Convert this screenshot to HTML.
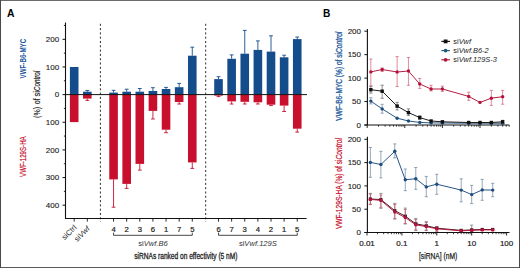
<!DOCTYPE html>
<html><head><meta charset="utf-8"><style>
html,body{margin:0;padding:0;background:#fff;}
svg{display:block;font-family:"Liberation Sans", sans-serif;}
</style></head><body>
<svg width="520" height="268" viewBox="0 0 520 268">
<rect x="0" y="0" width="520" height="268" fill="#fff"/>
<line x1="65.5" y1="22.5" x2="65.5" y2="219" stroke="#111" stroke-width="1.1"/>
<line x1="62.5" y1="39.30" x2="65.5" y2="39.30" stroke="#111" stroke-width="1"/>
<text x="59.2" y="42.10" text-anchor="end" font-size="8" fill="#222" stroke="#222" stroke-width="0.12">200</text>
<line x1="62.5" y1="66.95" x2="65.5" y2="66.95" stroke="#111" stroke-width="1"/>
<text x="59.2" y="69.75" text-anchor="end" font-size="8" fill="#222" stroke="#222" stroke-width="0.12">100</text>
<line x1="62.5" y1="94.60" x2="65.5" y2="94.60" stroke="#111" stroke-width="1"/>
<text x="59.2" y="97.40" text-anchor="end" font-size="8" fill="#222" stroke="#222" stroke-width="0.12">0</text>
<line x1="62.5" y1="122.25" x2="65.5" y2="122.25" stroke="#111" stroke-width="1"/>
<text x="59.2" y="125.05" text-anchor="end" font-size="8" fill="#222" stroke="#222" stroke-width="0.12">100</text>
<line x1="62.5" y1="149.90" x2="65.5" y2="149.90" stroke="#111" stroke-width="1"/>
<text x="59.2" y="152.70" text-anchor="end" font-size="8" fill="#222" stroke="#222" stroke-width="0.12">200</text>
<line x1="62.5" y1="177.55" x2="65.5" y2="177.55" stroke="#111" stroke-width="1"/>
<text x="59.2" y="180.35" text-anchor="end" font-size="8" fill="#222" stroke="#222" stroke-width="0.12">300</text>
<line x1="62.5" y1="205.20" x2="65.5" y2="205.20" stroke="#111" stroke-width="1"/>
<text x="59.2" y="208.00" text-anchor="end" font-size="8" fill="#222" stroke="#222" stroke-width="0.12">400</text>
<line x1="63.9" y1="25.47" x2="65.5" y2="25.47" stroke="#111" stroke-width="0.9"/>
<line x1="63.9" y1="53.12" x2="65.5" y2="53.12" stroke="#111" stroke-width="0.9"/>
<line x1="63.9" y1="80.77" x2="65.5" y2="80.77" stroke="#111" stroke-width="0.9"/>
<line x1="63.9" y1="108.42" x2="65.5" y2="108.42" stroke="#111" stroke-width="0.9"/>
<line x1="63.9" y1="136.07" x2="65.5" y2="136.07" stroke="#111" stroke-width="0.9"/>
<line x1="63.9" y1="163.72" x2="65.5" y2="163.72" stroke="#111" stroke-width="0.9"/>
<line x1="63.9" y1="191.38" x2="65.5" y2="191.38" stroke="#111" stroke-width="0.9"/>
<rect x="69.90" y="67.0" width="8.6" height="27.60" fill="#154c8b"/>
<rect x="69.90" y="94.6" width="8.6" height="27.50" fill="#c8102e"/>
<rect x="83.02" y="91.7" width="8.6" height="2.90" fill="#154c8b"/>
<rect x="83.02" y="94.6" width="8.6" height="4.00" fill="#c8102e"/>
<path d="M87.32 91.7 V90.5 M85.42 90.5 H89.22" stroke="#154c8b" stroke-width="0.9" fill="none"/>
<path d="M87.32 98.6 V100.4 M85.42 100.4 H89.22" stroke="#c8102e" stroke-width="0.9" fill="none"/>
<rect x="109.26" y="92.6" width="8.6" height="2.00" fill="#154c8b"/>
<rect x="109.26" y="94.6" width="8.6" height="84.80" fill="#c8102e"/>
<path d="M113.56 92.6 V90.3 M111.66 90.3 H115.46" stroke="#154c8b" stroke-width="0.9" fill="none"/>
<path d="M113.56 179.4 V207.2 M111.66 207.2 H115.46" stroke="#c8102e" stroke-width="0.9" fill="none"/>
<rect x="122.38" y="91.7" width="8.6" height="2.90" fill="#154c8b"/>
<rect x="122.38" y="94.6" width="8.6" height="89.30" fill="#c8102e"/>
<path d="M126.68 91.7 V89.2 M124.78 89.2 H128.58" stroke="#154c8b" stroke-width="0.9" fill="none"/>
<path d="M126.68 183.9 V188.4 M124.78 188.4 H128.58" stroke="#c8102e" stroke-width="0.9" fill="none"/>
<rect x="135.50" y="91.7" width="8.6" height="2.90" fill="#154c8b"/>
<rect x="135.50" y="94.6" width="8.6" height="69.30" fill="#c8102e"/>
<path d="M139.80 91.7 V88.5 M137.90 88.5 H141.70" stroke="#154c8b" stroke-width="0.9" fill="none"/>
<path d="M139.80 163.9 V170.1 M137.90 170.1 H141.70" stroke="#c8102e" stroke-width="0.9" fill="none"/>
<rect x="148.62" y="91.0" width="8.6" height="3.60" fill="#154c8b"/>
<rect x="148.62" y="94.6" width="8.6" height="16.30" fill="#c8102e"/>
<path d="M152.92 91.0 V87.7 M151.02 87.7 H154.82" stroke="#154c8b" stroke-width="0.9" fill="none"/>
<path d="M152.92 110.9 V119.0 M151.02 119.0 H154.82" stroke="#c8102e" stroke-width="0.9" fill="none"/>
<rect x="161.74" y="89.0" width="8.6" height="5.60" fill="#154c8b"/>
<rect x="161.74" y="94.6" width="8.6" height="35.10" fill="#c8102e"/>
<path d="M166.04 89.0 V87.4 M164.14 87.4 H167.94" stroke="#154c8b" stroke-width="0.9" fill="none"/>
<path d="M166.04 129.7 V132.7 M164.14 132.7 H167.94" stroke="#c8102e" stroke-width="0.9" fill="none"/>
<rect x="174.86" y="87.2" width="8.6" height="7.40" fill="#154c8b"/>
<rect x="174.86" y="94.6" width="8.6" height="7.40" fill="#c8102e"/>
<path d="M179.16 87.2 V83.4 M177.26 83.4 H181.06" stroke="#154c8b" stroke-width="0.9" fill="none"/>
<path d="M179.16 102.0 V104.0 M177.26 104.0 H181.06" stroke="#c8102e" stroke-width="0.9" fill="none"/>
<rect x="187.98" y="55.7" width="8.6" height="38.90" fill="#154c8b"/>
<rect x="187.98" y="94.6" width="8.6" height="67.80" fill="#c8102e"/>
<path d="M192.28 55.7 V47.2 M190.38 47.2 H194.18" stroke="#154c8b" stroke-width="0.9" fill="none"/>
<path d="M192.28 162.4 V168.4 M190.38 168.4 H194.18" stroke="#c8102e" stroke-width="0.9" fill="none"/>
<rect x="214.22" y="79.1" width="8.6" height="15.50" fill="#154c8b"/>
<rect x="214.22" y="94.6" width="8.6" height="1.00" fill="#c8102e"/>
<path d="M218.52 79.1 V76.7 M216.62 76.7 H220.42" stroke="#154c8b" stroke-width="0.9" fill="none"/>
<path d="M218.52 95.6 V96.6 M216.62 96.6 H220.42" stroke="#c8102e" stroke-width="0.9" fill="none"/>
<rect x="227.34" y="58.8" width="8.6" height="35.80" fill="#154c8b"/>
<rect x="227.34" y="94.6" width="8.6" height="6.80" fill="#c8102e"/>
<path d="M231.64 58.8 V54.9 M229.74 54.9 H233.54" stroke="#154c8b" stroke-width="0.9" fill="none"/>
<path d="M231.64 101.4 V104.0 M229.74 104.0 H233.54" stroke="#c8102e" stroke-width="0.9" fill="none"/>
<rect x="240.46" y="53.7" width="8.6" height="40.90" fill="#154c8b"/>
<rect x="240.46" y="94.6" width="8.6" height="7.20" fill="#c8102e"/>
<path d="M244.76 53.7 V30.4 M242.86 30.4 H246.66" stroke="#154c8b" stroke-width="0.9" fill="none"/>
<path d="M244.76 101.8 V104.0 M242.86 104.0 H246.66" stroke="#c8102e" stroke-width="0.9" fill="none"/>
<rect x="253.58" y="49.9" width="8.6" height="44.70" fill="#154c8b"/>
<rect x="253.58" y="94.6" width="8.6" height="7.70" fill="#c8102e"/>
<path d="M257.88 49.9 V40.9 M255.98 40.9 H259.78" stroke="#154c8b" stroke-width="0.9" fill="none"/>
<path d="M257.88 102.3 V104.0 M255.98 104.0 H259.78" stroke="#c8102e" stroke-width="0.9" fill="none"/>
<rect x="266.70" y="51.6" width="8.6" height="43.00" fill="#154c8b"/>
<rect x="266.70" y="94.6" width="8.6" height="10.10" fill="#c8102e"/>
<path d="M271.00 51.6 V35.8 M269.10 35.8 H272.90" stroke="#154c8b" stroke-width="0.9" fill="none"/>
<path d="M271.00 104.7 V105.6 M269.10 105.6 H272.90" stroke="#c8102e" stroke-width="0.9" fill="none"/>
<rect x="279.82" y="57.3" width="8.6" height="37.30" fill="#154c8b"/>
<rect x="279.82" y="94.6" width="8.6" height="11.00" fill="#c8102e"/>
<path d="M284.12 57.3 V55.2 M282.22 55.2 H286.02" stroke="#154c8b" stroke-width="0.9" fill="none"/>
<path d="M284.12 105.6 V111.5 M282.22 111.5 H286.02" stroke="#c8102e" stroke-width="0.9" fill="none"/>
<rect x="292.94" y="39.1" width="8.6" height="55.50" fill="#154c8b"/>
<rect x="292.94" y="94.6" width="8.6" height="34.10" fill="#c8102e"/>
<path d="M297.24 39.1 V37.0 M295.34 37.0 H299.14" stroke="#154c8b" stroke-width="0.9" fill="none"/>
<path d="M297.24 128.7 V132.1 M295.34 132.1 H299.14" stroke="#c8102e" stroke-width="0.9" fill="none"/>
<line x1="65.5" y1="94.6" x2="307" y2="94.6" stroke="#111" stroke-width="1"/>
<line x1="65.0" y1="218.5" x2="306.6" y2="218.5" stroke="#111" stroke-width="1.1"/>
<line x1="74.20" y1="218.5" x2="74.20" y2="221.6" stroke="#111" stroke-width="0.9"/>
<line x1="87.32" y1="218.5" x2="87.32" y2="221.6" stroke="#111" stroke-width="0.9"/>
<line x1="113.56" y1="218.5" x2="113.56" y2="221.6" stroke="#111" stroke-width="0.9"/>
<line x1="126.68" y1="218.5" x2="126.68" y2="221.6" stroke="#111" stroke-width="0.9"/>
<line x1="139.80" y1="218.5" x2="139.80" y2="221.6" stroke="#111" stroke-width="0.9"/>
<line x1="152.92" y1="218.5" x2="152.92" y2="221.6" stroke="#111" stroke-width="0.9"/>
<line x1="166.04" y1="218.5" x2="166.04" y2="221.6" stroke="#111" stroke-width="0.9"/>
<line x1="179.16" y1="218.5" x2="179.16" y2="221.6" stroke="#111" stroke-width="0.9"/>
<line x1="192.28" y1="218.5" x2="192.28" y2="221.6" stroke="#111" stroke-width="0.9"/>
<line x1="218.52" y1="218.5" x2="218.52" y2="221.6" stroke="#111" stroke-width="0.9"/>
<line x1="231.64" y1="218.5" x2="231.64" y2="221.6" stroke="#111" stroke-width="0.9"/>
<line x1="244.76" y1="218.5" x2="244.76" y2="221.6" stroke="#111" stroke-width="0.9"/>
<line x1="257.88" y1="218.5" x2="257.88" y2="221.6" stroke="#111" stroke-width="0.9"/>
<line x1="271.00" y1="218.5" x2="271.00" y2="221.6" stroke="#111" stroke-width="0.9"/>
<line x1="284.12" y1="218.5" x2="284.12" y2="221.6" stroke="#111" stroke-width="0.9"/>
<line x1="297.24" y1="218.5" x2="297.24" y2="221.6" stroke="#111" stroke-width="0.9"/>
<line x1="100.4" y1="23.8" x2="100.4" y2="222" stroke="#111" stroke-width="0.9" stroke-dasharray="2 2.3"/>
<line x1="205.7" y1="23.8" x2="205.7" y2="222" stroke="#111" stroke-width="0.9" stroke-dasharray="2 2.3"/>
<text x="113.56" y="231.8" text-anchor="middle" font-size="7.7" fill="#222" stroke="#222" stroke-width="0.2">4</text>
<text x="126.68" y="231.8" text-anchor="middle" font-size="7.7" fill="#222" stroke="#222" stroke-width="0.2">2</text>
<text x="139.80" y="231.8" text-anchor="middle" font-size="7.7" fill="#222" stroke="#222" stroke-width="0.2">3</text>
<text x="152.92" y="231.8" text-anchor="middle" font-size="7.7" fill="#222" stroke="#222" stroke-width="0.2">6</text>
<text x="166.04" y="231.8" text-anchor="middle" font-size="7.7" fill="#222" stroke="#222" stroke-width="0.2">1</text>
<text x="179.16" y="231.8" text-anchor="middle" font-size="7.7" fill="#222" stroke="#222" stroke-width="0.2">7</text>
<text x="192.28" y="231.8" text-anchor="middle" font-size="7.7" fill="#222" stroke="#222" stroke-width="0.2">5</text>
<text x="218.52" y="231.8" text-anchor="middle" font-size="7.7" fill="#222" stroke="#222" stroke-width="0.2">6</text>
<text x="231.64" y="231.8" text-anchor="middle" font-size="7.7" fill="#222" stroke="#222" stroke-width="0.2">7</text>
<text x="244.76" y="231.8" text-anchor="middle" font-size="7.7" fill="#222" stroke="#222" stroke-width="0.2">3</text>
<text x="257.88" y="231.8" text-anchor="middle" font-size="7.7" fill="#222" stroke="#222" stroke-width="0.2">4</text>
<text x="271.00" y="231.8" text-anchor="middle" font-size="7.7" fill="#222" stroke="#222" stroke-width="0.2">2</text>
<text x="284.12" y="231.8" text-anchor="middle" font-size="7.7" fill="#222" stroke="#222" stroke-width="0.2">1</text>
<text x="297.24" y="231.8" text-anchor="middle" font-size="7.7" fill="#222" stroke="#222" stroke-width="0.2">5</text>
<text transform="translate(77.1,228.1) rotate(-45)" text-anchor="end" font-size="7.6" fill="#222">siCtrl</text>
<text transform="translate(90.2,229.2) rotate(-45)" text-anchor="end" font-size="7.6" fill="#222">si<tspan font-style="italic">Vwf</tspan></text>
<path d="M113.56 232.6 V235.3 H192.28 V232.6" stroke="#333" stroke-width="0.9" fill="none"/>
<path d="M218.52 232.6 V235.3 H297.24 V232.6" stroke="#333" stroke-width="0.9" fill="none"/>
<text x="152.92" y="245.9" text-anchor="middle" font-size="7.6" fill="#333">si<tspan font-style="italic">Vwf.B6</tspan></text>
<text x="257.88" y="245.9" text-anchor="middle" font-size="7.6" fill="#333">si<tspan font-style="italic">Vwf.129S</tspan></text>
<text x="134.2" y="258.7" font-size="8.5" fill="#222" stroke="#222" stroke-width="0.3" textLength="103.3" lengthAdjust="spacingAndGlyphs">siRNAs ranked on effectivity (5 nM)</text>
<text transform="translate(25.6,58.6) rotate(-90)" text-anchor="middle" font-size="8.3" font-weight="bold" fill="#245a9c" textLength="39.7" lengthAdjust="spacingAndGlyphs">VWF-B6-MYC</text>
<text transform="translate(39.7,80.9) rotate(-90)" text-anchor="middle" font-size="8.3" font-style="italic" fill="#222" stroke="#222" stroke-width="0.15" textLength="20.0" lengthAdjust="spacingAndGlyphs">Control</text>
<text transform="translate(39.7,93.9) rotate(-90)" text-anchor="middle" font-size="8.3" fill="#222" stroke="#222" stroke-width="0.15" textLength="5.4" lengthAdjust="spacingAndGlyphs">si</text>
<text transform="translate(39.7,101.3) rotate(-90)" text-anchor="middle" font-size="8.3" fill="#222" stroke="#222" stroke-width="0.15" textLength="5.6" lengthAdjust="spacingAndGlyphs">of</text>
<text transform="translate(39.7,112.4) rotate(-90)" text-anchor="middle" font-size="8.3" fill="#222" stroke="#222" stroke-width="0.15" textLength="11.0" lengthAdjust="spacingAndGlyphs">(%)</text>
<text transform="translate(25.6,156.6) rotate(-90)" text-anchor="middle" font-size="8.3" fill="#c8102e" stroke="#c8102e" stroke-width="0.2" textLength="40.6" lengthAdjust="spacingAndGlyphs">VWF-129S-HA</text>
<text x="7.0" y="16.5" font-size="10.4" font-weight="bold" fill="#000">A</text>
<text x="322.9" y="16.5" font-size="10.2" font-weight="bold" fill="#000">B</text>
<line x1="367.4" y1="29.0" x2="367.4" y2="125.0" stroke="#111" stroke-width="1.1"/>
<line x1="364.4" y1="125.00" x2="367.4" y2="125.00" stroke="#111" stroke-width="1"/>
<text x="361.0" y="127.80" text-anchor="end" font-size="8" fill="#222" stroke="#222" stroke-width="0.12">0</text>
<line x1="364.4" y1="101.55" x2="367.4" y2="101.55" stroke="#111" stroke-width="1"/>
<text x="361.0" y="104.35" text-anchor="end" font-size="8" fill="#222" stroke="#222" stroke-width="0.12">50</text>
<line x1="364.4" y1="78.10" x2="367.4" y2="78.10" stroke="#111" stroke-width="1"/>
<text x="361.0" y="80.90" text-anchor="end" font-size="8" fill="#222" stroke="#222" stroke-width="0.12">100</text>
<line x1="364.4" y1="54.65" x2="367.4" y2="54.65" stroke="#111" stroke-width="1"/>
<text x="361.0" y="57.45" text-anchor="end" font-size="8" fill="#222" stroke="#222" stroke-width="0.12">150</text>
<line x1="364.4" y1="31.20" x2="367.4" y2="31.20" stroke="#111" stroke-width="1"/>
<text x="361.0" y="34.00" text-anchor="end" font-size="8" fill="#222" stroke="#222" stroke-width="0.12">200</text>
<line x1="364.4" y1="125.0" x2="509.3" y2="125.0" stroke="#111" stroke-width="1.1"/>
<line x1="367.20" y1="125.0" x2="367.20" y2="128.0" stroke="#111" stroke-width="0.9"/>
<line x1="378.52" y1="125.0" x2="378.52" y2="126.7" stroke="#111" stroke-width="0.8"/>
<line x1="385.14" y1="125.0" x2="385.14" y2="126.7" stroke="#111" stroke-width="0.8"/>
<line x1="389.84" y1="125.0" x2="389.84" y2="126.7" stroke="#111" stroke-width="0.8"/>
<line x1="393.48" y1="125.0" x2="393.48" y2="126.7" stroke="#111" stroke-width="0.8"/>
<line x1="396.46" y1="125.0" x2="396.46" y2="126.7" stroke="#111" stroke-width="0.8"/>
<line x1="398.98" y1="125.0" x2="398.98" y2="126.7" stroke="#111" stroke-width="0.8"/>
<line x1="401.16" y1="125.0" x2="401.16" y2="126.7" stroke="#111" stroke-width="0.8"/>
<line x1="403.08" y1="125.0" x2="403.08" y2="126.7" stroke="#111" stroke-width="0.8"/>
<line x1="404.80" y1="125.0" x2="404.80" y2="128.0" stroke="#111" stroke-width="0.9"/>
<line x1="416.12" y1="125.0" x2="416.12" y2="126.7" stroke="#111" stroke-width="0.8"/>
<line x1="422.74" y1="125.0" x2="422.74" y2="126.7" stroke="#111" stroke-width="0.8"/>
<line x1="427.44" y1="125.0" x2="427.44" y2="126.7" stroke="#111" stroke-width="0.8"/>
<line x1="431.08" y1="125.0" x2="431.08" y2="126.7" stroke="#111" stroke-width="0.8"/>
<line x1="434.06" y1="125.0" x2="434.06" y2="126.7" stroke="#111" stroke-width="0.8"/>
<line x1="436.58" y1="125.0" x2="436.58" y2="126.7" stroke="#111" stroke-width="0.8"/>
<line x1="438.76" y1="125.0" x2="438.76" y2="126.7" stroke="#111" stroke-width="0.8"/>
<line x1="440.68" y1="125.0" x2="440.68" y2="126.7" stroke="#111" stroke-width="0.8"/>
<line x1="442.40" y1="125.0" x2="442.40" y2="128.0" stroke="#111" stroke-width="0.9"/>
<line x1="453.72" y1="125.0" x2="453.72" y2="126.7" stroke="#111" stroke-width="0.8"/>
<line x1="460.34" y1="125.0" x2="460.34" y2="126.7" stroke="#111" stroke-width="0.8"/>
<line x1="465.04" y1="125.0" x2="465.04" y2="126.7" stroke="#111" stroke-width="0.8"/>
<line x1="468.68" y1="125.0" x2="468.68" y2="126.7" stroke="#111" stroke-width="0.8"/>
<line x1="471.66" y1="125.0" x2="471.66" y2="126.7" stroke="#111" stroke-width="0.8"/>
<line x1="474.18" y1="125.0" x2="474.18" y2="126.7" stroke="#111" stroke-width="0.8"/>
<line x1="476.36" y1="125.0" x2="476.36" y2="126.7" stroke="#111" stroke-width="0.8"/>
<line x1="478.28" y1="125.0" x2="478.28" y2="126.7" stroke="#111" stroke-width="0.8"/>
<line x1="480.00" y1="125.0" x2="480.00" y2="128.0" stroke="#111" stroke-width="0.9"/>
<line x1="491.32" y1="125.0" x2="491.32" y2="126.7" stroke="#111" stroke-width="0.8"/>
<line x1="497.94" y1="125.0" x2="497.94" y2="126.7" stroke="#111" stroke-width="0.8"/>
<line x1="502.64" y1="125.0" x2="502.64" y2="126.7" stroke="#111" stroke-width="0.8"/>
<line x1="506.28" y1="125.0" x2="506.28" y2="126.7" stroke="#111" stroke-width="0.8"/>
<line x1="509.26" y1="125.0" x2="509.26" y2="126.7" stroke="#111" stroke-width="0.8"/>
<line x1="367.4" y1="136.7" x2="367.4" y2="232.5" stroke="#111" stroke-width="1.1"/>
<line x1="364.4" y1="232.50" x2="367.4" y2="232.50" stroke="#111" stroke-width="1"/>
<text x="361.0" y="235.30" text-anchor="end" font-size="8" fill="#222" stroke="#222" stroke-width="0.12">0</text>
<line x1="364.4" y1="209.20" x2="367.4" y2="209.20" stroke="#111" stroke-width="1"/>
<text x="361.0" y="212.00" text-anchor="end" font-size="8" fill="#222" stroke="#222" stroke-width="0.12">50</text>
<line x1="364.4" y1="185.90" x2="367.4" y2="185.90" stroke="#111" stroke-width="1"/>
<text x="361.0" y="188.70" text-anchor="end" font-size="8" fill="#222" stroke="#222" stroke-width="0.12">100</text>
<line x1="364.4" y1="162.60" x2="367.4" y2="162.60" stroke="#111" stroke-width="1"/>
<text x="361.0" y="165.40" text-anchor="end" font-size="8" fill="#222" stroke="#222" stroke-width="0.12">150</text>
<line x1="364.4" y1="139.30" x2="367.4" y2="139.30" stroke="#111" stroke-width="1"/>
<text x="361.0" y="142.10" text-anchor="end" font-size="8" fill="#222" stroke="#222" stroke-width="0.12">200</text>
<line x1="364.4" y1="232.5" x2="509.5" y2="232.5" stroke="#111" stroke-width="1.1"/>
<line x1="367.00" y1="232.5" x2="367.00" y2="235.5" stroke="#111" stroke-width="0.9"/>
<line x1="377.51" y1="232.5" x2="377.51" y2="234.2" stroke="#111" stroke-width="0.8"/>
<line x1="383.65" y1="232.5" x2="383.65" y2="234.2" stroke="#111" stroke-width="0.8"/>
<line x1="388.01" y1="232.5" x2="388.01" y2="234.2" stroke="#111" stroke-width="0.8"/>
<line x1="391.39" y1="232.5" x2="391.39" y2="234.2" stroke="#111" stroke-width="0.8"/>
<line x1="394.16" y1="232.5" x2="394.16" y2="234.2" stroke="#111" stroke-width="0.8"/>
<line x1="396.49" y1="232.5" x2="396.49" y2="234.2" stroke="#111" stroke-width="0.8"/>
<line x1="398.52" y1="232.5" x2="398.52" y2="234.2" stroke="#111" stroke-width="0.8"/>
<line x1="400.30" y1="232.5" x2="400.30" y2="234.2" stroke="#111" stroke-width="0.8"/>
<line x1="401.90" y1="232.5" x2="401.90" y2="235.5" stroke="#111" stroke-width="0.9"/>
<line x1="412.41" y1="232.5" x2="412.41" y2="234.2" stroke="#111" stroke-width="0.8"/>
<line x1="418.55" y1="232.5" x2="418.55" y2="234.2" stroke="#111" stroke-width="0.8"/>
<line x1="422.91" y1="232.5" x2="422.91" y2="234.2" stroke="#111" stroke-width="0.8"/>
<line x1="426.29" y1="232.5" x2="426.29" y2="234.2" stroke="#111" stroke-width="0.8"/>
<line x1="429.06" y1="232.5" x2="429.06" y2="234.2" stroke="#111" stroke-width="0.8"/>
<line x1="431.39" y1="232.5" x2="431.39" y2="234.2" stroke="#111" stroke-width="0.8"/>
<line x1="433.42" y1="232.5" x2="433.42" y2="234.2" stroke="#111" stroke-width="0.8"/>
<line x1="435.20" y1="232.5" x2="435.20" y2="234.2" stroke="#111" stroke-width="0.8"/>
<line x1="436.80" y1="232.5" x2="436.80" y2="235.5" stroke="#111" stroke-width="0.9"/>
<line x1="447.31" y1="232.5" x2="447.31" y2="234.2" stroke="#111" stroke-width="0.8"/>
<line x1="453.45" y1="232.5" x2="453.45" y2="234.2" stroke="#111" stroke-width="0.8"/>
<line x1="457.81" y1="232.5" x2="457.81" y2="234.2" stroke="#111" stroke-width="0.8"/>
<line x1="461.19" y1="232.5" x2="461.19" y2="234.2" stroke="#111" stroke-width="0.8"/>
<line x1="463.96" y1="232.5" x2="463.96" y2="234.2" stroke="#111" stroke-width="0.8"/>
<line x1="466.29" y1="232.5" x2="466.29" y2="234.2" stroke="#111" stroke-width="0.8"/>
<line x1="468.32" y1="232.5" x2="468.32" y2="234.2" stroke="#111" stroke-width="0.8"/>
<line x1="470.10" y1="232.5" x2="470.10" y2="234.2" stroke="#111" stroke-width="0.8"/>
<line x1="471.70" y1="232.5" x2="471.70" y2="235.5" stroke="#111" stroke-width="0.9"/>
<line x1="482.21" y1="232.5" x2="482.21" y2="234.2" stroke="#111" stroke-width="0.8"/>
<line x1="488.35" y1="232.5" x2="488.35" y2="234.2" stroke="#111" stroke-width="0.8"/>
<line x1="492.71" y1="232.5" x2="492.71" y2="234.2" stroke="#111" stroke-width="0.8"/>
<line x1="496.09" y1="232.5" x2="496.09" y2="234.2" stroke="#111" stroke-width="0.8"/>
<line x1="498.86" y1="232.5" x2="498.86" y2="234.2" stroke="#111" stroke-width="0.8"/>
<line x1="501.19" y1="232.5" x2="501.19" y2="234.2" stroke="#111" stroke-width="0.8"/>
<line x1="503.22" y1="232.5" x2="503.22" y2="234.2" stroke="#111" stroke-width="0.8"/>
<line x1="505.00" y1="232.5" x2="505.00" y2="234.2" stroke="#111" stroke-width="0.8"/>
<line x1="506.60" y1="232.5" x2="506.60" y2="235.5" stroke="#111" stroke-width="0.9"/>
<text x="367.00" y="245.90" text-anchor="middle" font-size="8" fill="#222" stroke="#222" stroke-width="0.2">0.01</text>
<text x="401.90" y="245.90" text-anchor="middle" font-size="8" fill="#222" stroke="#222" stroke-width="0.2">0.1</text>
<text x="436.80" y="245.90" text-anchor="middle" font-size="8" fill="#222" stroke="#222" stroke-width="0.2">1</text>
<text x="471.70" y="245.90" text-anchor="middle" font-size="8" fill="#222" stroke="#222" stroke-width="0.2">10</text>
<text x="506.60" y="245.90" text-anchor="middle" font-size="8" fill="#222" stroke="#222" stroke-width="0.2">100</text>
<path d="M370.84 97.7 V103.9 M369.24 97.7 H372.44 M369.24 103.9 H372.44" stroke="#5f7a95" stroke-width="0.65" fill="none"/>
<path d="M382.16 104.3 V113.2 M380.56 104.3 H383.76 M380.56 113.2 H383.76" stroke="#5f7a95" stroke-width="0.65" fill="none"/>
<polyline points="370.84,101.10 382.16,108.90 397.13,118.20 408.44,121.00 419.76,122.40 431.08,122.90 442.40,123.00 468.68,123.20 480.00,123.20 491.32,123.20 502.64,123.20" stroke="#1d4d7e" stroke-width="0.95" fill="none"/>
<circle cx="370.84" cy="101.10" r="1.7" fill="#1d4d7e"/>
<circle cx="382.16" cy="108.90" r="1.7" fill="#1d4d7e"/>
<circle cx="397.13" cy="118.20" r="1.7" fill="#1d4d7e"/>
<circle cx="408.44" cy="121.00" r="1.7" fill="#1d4d7e"/>
<circle cx="419.76" cy="122.40" r="1.7" fill="#1d4d7e"/>
<circle cx="431.08" cy="122.90" r="1.7" fill="#1d4d7e"/>
<circle cx="442.40" cy="123.00" r="1.7" fill="#1d4d7e"/>
<circle cx="468.68" cy="123.20" r="1.7" fill="#1d4d7e"/>
<circle cx="480.00" cy="123.20" r="1.7" fill="#1d4d7e"/>
<circle cx="491.32" cy="123.20" r="1.7" fill="#1d4d7e"/>
<circle cx="502.64" cy="123.20" r="1.7" fill="#1d4d7e"/>
<path d="M370.84 86.5 V93.1 M369.24 86.5 H372.44 M369.24 93.1 H372.44" stroke="#555" stroke-width="0.65" fill="none"/>
<path d="M382.16 85.2 V98.3 M380.56 85.2 H383.76 M380.56 98.3 H383.76" stroke="#555" stroke-width="0.65" fill="none"/>
<path d="M397.13 102.4 V109.9 M395.53 102.4 H398.73 M395.53 109.9 H398.73" stroke="#555" stroke-width="0.65" fill="none"/>
<path d="M408.44 108.9 V115.4 M406.84 108.9 H410.04 M406.84 115.4 H410.04" stroke="#555" stroke-width="0.65" fill="none"/>
<path d="M419.76 115.8 V119.4 M418.16 115.8 H421.36 M418.16 119.4 H421.36" stroke="#555" stroke-width="0.65" fill="none"/>
<path d="M502.64 120.3 V123.3 M501.04 120.3 H504.24 M501.04 123.3 H504.24" stroke="#555" stroke-width="0.65" fill="none"/>
<polyline points="370.84,89.70 382.16,91.20 397.13,106.10 408.44,112.60 419.76,117.60 431.08,121.00 442.40,121.80 468.68,122.50 480.00,122.50 491.32,122.50 502.64,121.80" stroke="#111" stroke-width="0.95" fill="none"/>
<rect x="369.14" y="88.00" width="3.4" height="3.4" fill="#111"/>
<rect x="380.46" y="89.50" width="3.4" height="3.4" fill="#111"/>
<rect x="395.43" y="104.40" width="3.4" height="3.4" fill="#111"/>
<rect x="406.74" y="110.90" width="3.4" height="3.4" fill="#111"/>
<rect x="418.06" y="115.90" width="3.4" height="3.4" fill="#111"/>
<rect x="429.38" y="119.30" width="3.4" height="3.4" fill="#111"/>
<rect x="440.70" y="120.10" width="3.4" height="3.4" fill="#111"/>
<rect x="466.98" y="120.80" width="3.4" height="3.4" fill="#111"/>
<rect x="478.30" y="120.80" width="3.4" height="3.4" fill="#111"/>
<rect x="489.62" y="120.80" width="3.4" height="3.4" fill="#111"/>
<rect x="500.94" y="120.10" width="3.4" height="3.4" fill="#111"/>
<path d="M370.84 59 V85.3 M369.24 59 H372.44 M369.24 85.3 H372.44" stroke="#c9506a" stroke-width="0.65" fill="none"/>
<path d="M382.16 68 V71.5 M380.56 68 H383.76 M380.56 71.5 H383.76" stroke="#c9506a" stroke-width="0.65" fill="none"/>
<path d="M397.13 56.6 V86.5 M395.53 56.6 H398.73 M395.53 86.5 H398.73" stroke="#c9506a" stroke-width="0.65" fill="none"/>
<path d="M408.44 57.5 V85.3 M406.84 57.5 H410.04 M406.84 85.3 H410.04" stroke="#c9506a" stroke-width="0.65" fill="none"/>
<path d="M419.76 78.4 V88.4 M418.16 78.4 H421.36 M418.16 88.4 H421.36" stroke="#c9506a" stroke-width="0.65" fill="none"/>
<path d="M431.08 85.3 V90.9 M429.48 85.3 H432.68 M429.48 90.9 H432.68" stroke="#c9506a" stroke-width="0.65" fill="none"/>
<path d="M442.40 86.2 V91.4 M440.80 86.2 H444.00 M440.80 91.4 H444.00" stroke="#c9506a" stroke-width="0.65" fill="none"/>
<path d="M468.68 92.2 V100.3 M467.08 92.2 H470.28 M467.08 100.3 H470.28" stroke="#c9506a" stroke-width="0.65" fill="none"/>
<path d="M491.32 90.4 V105.4 M489.72 90.4 H492.92 M489.72 105.4 H492.92" stroke="#c9506a" stroke-width="0.65" fill="none"/>
<path d="M502.64 90.4 V104.2 M501.04 90.4 H504.24 M501.04 104.2 H504.24" stroke="#c9506a" stroke-width="0.65" fill="none"/>
<polyline points="370.84,71.90 382.16,69.50 397.13,72.00 408.44,71.00 419.76,84.00 431.08,89.00 442.40,89.00 468.68,96.40 480.00,102.40 491.32,98.20 502.64,96.70" stroke="#b3123a" stroke-width="0.95" fill="none"/>
<circle cx="370.84" cy="71.90" r="1.7" fill="#b3123a"/>
<circle cx="382.16" cy="69.50" r="1.7" fill="#b3123a"/>
<circle cx="397.13" cy="72.00" r="1.7" fill="#b3123a"/>
<circle cx="408.44" cy="71.00" r="1.7" fill="#b3123a"/>
<circle cx="419.76" cy="84.00" r="1.7" fill="#b3123a"/>
<circle cx="431.08" cy="89.00" r="1.7" fill="#b3123a"/>
<circle cx="442.40" cy="89.00" r="1.7" fill="#b3123a"/>
<circle cx="468.68" cy="96.40" r="1.7" fill="#b3123a"/>
<circle cx="480.00" cy="102.40" r="1.7" fill="#b3123a"/>
<circle cx="491.32" cy="98.20" r="1.7" fill="#b3123a"/>
<circle cx="502.64" cy="96.70" r="1.7" fill="#b3123a"/>
<path d="M370.38 147.5 V177.3 M368.78 147.5 H371.98 M368.78 177.3 H371.98" stroke="#5f7a95" stroke-width="0.65" fill="none"/>
<path d="M380.89 151.3 V177.9 M379.29 151.3 H382.49 M379.29 177.9 H382.49" stroke="#5f7a95" stroke-width="0.65" fill="none"/>
<path d="M394.78 143.9 V157.9 M393.18 143.9 H396.38 M393.18 157.9 H396.38" stroke="#5f7a95" stroke-width="0.65" fill="none"/>
<path d="M405.28 169 V190.7 M403.68 169 H406.88 M403.68 190.7 H406.88" stroke="#5f7a95" stroke-width="0.65" fill="none"/>
<path d="M415.79 167.5 V189.3 M414.19 167.5 H417.39 M414.19 189.3 H417.39" stroke="#5f7a95" stroke-width="0.65" fill="none"/>
<path d="M426.29 176.4 V196.7 M424.69 176.4 H427.89 M424.69 196.7 H427.89" stroke="#5f7a95" stroke-width="0.65" fill="none"/>
<path d="M436.80 174.3 V194.3 M435.20 174.3 H438.40 M435.20 194.3 H438.40" stroke="#5f7a95" stroke-width="0.65" fill="none"/>
<path d="M461.19 178.8 V201.8 M459.59 178.8 H462.79 M459.59 201.8 H462.79" stroke="#5f7a95" stroke-width="0.65" fill="none"/>
<path d="M471.70 185.4 V203.6 M470.10 185.4 H473.30 M470.10 203.6 H473.30" stroke="#5f7a95" stroke-width="0.65" fill="none"/>
<path d="M482.21 179.4 V200.3 M480.61 179.4 H483.81 M480.61 200.3 H483.81" stroke="#5f7a95" stroke-width="0.65" fill="none"/>
<path d="M492.71 183.3 V196.7 M491.11 183.3 H494.31 M491.11 196.7 H494.31" stroke="#5f7a95" stroke-width="0.65" fill="none"/>
<polyline points="370.38,162.40 380.89,164.50 394.78,151.30 405.28,179.70 415.79,178.80 426.29,186.90 436.80,184.20 461.19,190.10 471.70,194.60 482.21,189.90 492.71,190.10" stroke="#1d4d7e" stroke-width="0.95" fill="none"/>
<circle cx="370.38" cy="162.40" r="1.7" fill="#1d4d7e"/>
<circle cx="380.89" cy="164.50" r="1.7" fill="#1d4d7e"/>
<circle cx="394.78" cy="151.30" r="1.7" fill="#1d4d7e"/>
<circle cx="405.28" cy="179.70" r="1.7" fill="#1d4d7e"/>
<circle cx="415.79" cy="178.80" r="1.7" fill="#1d4d7e"/>
<circle cx="426.29" cy="186.90" r="1.7" fill="#1d4d7e"/>
<circle cx="436.80" cy="184.20" r="1.7" fill="#1d4d7e"/>
<circle cx="461.19" cy="190.10" r="1.7" fill="#1d4d7e"/>
<circle cx="471.70" cy="194.60" r="1.7" fill="#1d4d7e"/>
<circle cx="482.21" cy="189.90" r="1.7" fill="#1d4d7e"/>
<circle cx="492.71" cy="190.10" r="1.7" fill="#1d4d7e"/>
<path d="M370.38 193.4 V204.2 M368.78 193.4 H371.98 M368.78 204.2 H371.98" stroke="#666" stroke-width="0.65" fill="none"/>
<path d="M380.89 193.4 V208.3 M379.29 193.4 H382.49 M379.29 208.3 H382.49" stroke="#666" stroke-width="0.65" fill="none"/>
<path d="M394.78 203.4 V219.1 M393.18 203.4 H396.38 M393.18 219.1 H396.38" stroke="#666" stroke-width="0.65" fill="none"/>
<path d="M405.28 208.1 V224 M403.68 208.1 H406.88 M403.68 224 H406.88" stroke="#666" stroke-width="0.65" fill="none"/>
<path d="M415.79 218.4 V230.6 M414.19 218.4 H417.39 M414.19 230.6 H417.39" stroke="#666" stroke-width="0.65" fill="none"/>
<path d="M426.29 221.6 V230.6 M424.69 221.6 H427.89 M424.69 230.6 H427.89" stroke="#666" stroke-width="0.65" fill="none"/>
<path d="M436.80 226.6 V231.3 M435.20 226.6 H438.40 M435.20 231.3 H438.40" stroke="#666" stroke-width="0.65" fill="none"/>
<path d="M471.70 225.1 V231.5 M470.10 225.1 H473.30 M470.10 231.5 H473.30" stroke="#666" stroke-width="0.65" fill="none"/>
<polyline points="370.38,199.00 380.89,199.60 394.78,210.60 405.28,216.20 415.79,223.80 426.29,225.80 436.80,228.20 461.19,230.40 471.70,229.90 482.21,229.50 492.71,229.50" stroke="#3a1018" stroke-width="0.95" fill="none"/>
<rect x="368.78" y="197.40" width="3.2" height="3.2" fill="#3a1018"/>
<rect x="379.29" y="198.00" width="3.2" height="3.2" fill="#3a1018"/>
<rect x="393.18" y="209.00" width="3.2" height="3.2" fill="#3a1018"/>
<rect x="403.68" y="214.60" width="3.2" height="3.2" fill="#3a1018"/>
<rect x="414.19" y="222.20" width="3.2" height="3.2" fill="#3a1018"/>
<rect x="424.69" y="224.20" width="3.2" height="3.2" fill="#3a1018"/>
<rect x="435.20" y="226.60" width="3.2" height="3.2" fill="#3a1018"/>
<rect x="459.59" y="228.80" width="3.2" height="3.2" fill="#3a1018"/>
<rect x="470.10" y="228.30" width="3.2" height="3.2" fill="#3a1018"/>
<rect x="480.61" y="227.90" width="3.2" height="3.2" fill="#3a1018"/>
<rect x="491.11" y="227.90" width="3.2" height="3.2" fill="#3a1018"/>
<path d="M370.38 194.0 V204.6 M368.78 194.0 H371.98 M368.78 204.6 H371.98" stroke="#c9506a" stroke-width="0.65" fill="none"/>
<path d="M380.89 195.0 V207.3 M379.29 195.0 H382.49 M379.29 207.3 H382.49" stroke="#c9506a" stroke-width="0.65" fill="none"/>
<path d="M394.78 204.5 V218.5 M393.18 204.5 H396.38 M393.18 218.5 H396.38" stroke="#c9506a" stroke-width="0.65" fill="none"/>
<path d="M405.28 209.5 V223.5 M403.68 209.5 H406.88 M403.68 223.5 H406.88" stroke="#c9506a" stroke-width="0.65" fill="none"/>
<path d="M415.79 219.5 V229.8 M414.19 219.5 H417.39 M414.19 229.8 H417.39" stroke="#c9506a" stroke-width="0.65" fill="none"/>
<path d="M426.29 222.5 V230.2 M424.69 222.5 H427.89 M424.69 230.2 H427.89" stroke="#c9506a" stroke-width="0.65" fill="none"/>
<path d="M436.80 227.0 V231.0 M435.20 227.0 H438.40 M435.20 231.0 H438.40" stroke="#c9506a" stroke-width="0.65" fill="none"/>
<polyline points="370.38,199.40 380.89,200.40 394.78,212.00 405.28,217.60 415.79,224.80 426.29,226.60 436.80,228.80 461.19,230.80 471.70,230.30 482.21,229.90 492.71,229.90" stroke="#b3123a" stroke-width="0.95" fill="none"/>
<circle cx="370.38" cy="199.40" r="1.7" fill="#b3123a"/>
<circle cx="380.89" cy="200.40" r="1.7" fill="#b3123a"/>
<circle cx="394.78" cy="212.00" r="1.7" fill="#b3123a"/>
<circle cx="405.28" cy="217.60" r="1.7" fill="#b3123a"/>
<circle cx="415.79" cy="224.80" r="1.7" fill="#b3123a"/>
<circle cx="426.29" cy="226.60" r="1.7" fill="#b3123a"/>
<circle cx="436.80" cy="228.80" r="1.7" fill="#b3123a"/>
<circle cx="461.19" cy="230.80" r="1.7" fill="#b3123a"/>
<circle cx="471.70" cy="230.30" r="1.7" fill="#b3123a"/>
<circle cx="482.21" cy="229.90" r="1.7" fill="#b3123a"/>
<circle cx="492.71" cy="229.90" r="1.7" fill="#b3123a"/>
<line x1="441.3" y1="41.4" x2="450" y2="41.4" stroke="#111" stroke-width="1.1"/>
<rect x="443.70000000000005" y="39.5" width="3.8" height="3.8" fill="#111"/>
<text x="453.3" y="44.0" font-size="7.4" fill="#222">si<tspan font-style="italic">Vwf</tspan></text>
<line x1="441.3" y1="50.6" x2="450" y2="50.6" stroke="#1d5a78" stroke-width="1.1"/>
<circle cx="445.6" cy="50.6" r="1.9" fill="#1d5a78"/>
<text x="453.3" y="53.2" font-size="7.4" fill="#222">si<tspan font-style="italic">Vwf.B6-2</tspan></text>
<line x1="441.3" y1="59.8" x2="450" y2="59.8" stroke="#b3123a" stroke-width="1.1"/>
<circle cx="445.6" cy="59.8" r="1.9" fill="#b3123a"/>
<text x="453.3" y="62.4" font-size="7.4" fill="#222">si<tspan font-style="italic">Vwf.129S-3</tspan></text>
<text transform="translate(341.9,76.2) rotate(-90)" text-anchor="middle" font-size="8.3" fill="#245a9c" stroke="#245a9c" stroke-width="0.3" textLength="89" lengthAdjust="spacingAndGlyphs">VWF-B6-MYC (%) of si<tspan font-style="italic">Control</tspan></text>
<text transform="translate(341.9,183.6) rotate(-90)" text-anchor="middle" font-size="8.2" fill="#c8102e" stroke="#c8102e" stroke-width="0.2" textLength="91" lengthAdjust="spacingAndGlyphs">VWF-129S-HA (%) of si<tspan font-style="italic">Control</tspan></text>
<text x="419.0" y="258.8" font-size="8.6" fill="#222" stroke="#222" stroke-width="0.25" textLength="38.3" lengthAdjust="spacingAndGlyphs">[siRNA] (nM)</text>
<line x1="0" y1="0.5" x2="520" y2="0.5" stroke="#6a6a6a" stroke-width="1"/>
<line x1="0" y1="267.5" x2="520" y2="267.5" stroke="#5a5a5a" stroke-width="1"/>
<line x1="0.5" y1="0" x2="0.5" y2="268" stroke="#4a4a4a" stroke-width="1"/>
<line x1="519.5" y1="0" x2="519.5" y2="268" stroke="#4a4a4a" stroke-width="1"/>
</svg>
</body></html>
